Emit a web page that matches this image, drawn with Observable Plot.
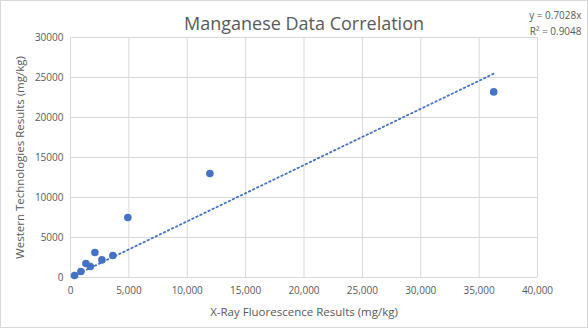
<!DOCTYPE html>
<html><head><meta charset="utf-8">
<script src="https://cdn.jsdelivr.net/npm/d3@7"></script>
<script src="https://cdn.jsdelivr.net/npm/@observablehq/plot@0.6"></script>
<style>
html,body{margin:0;padding:0;background:#fff;}
#chart{width:586px;height:326px;border:1px solid #d9d9d9;overflow:hidden;position:relative;}
svg{font-family:"Open Sans",sans-serif;}
</style></head>
<body><div id="chart"></div>
<script>
const xrf = [350, 890, 1320, 1700, 2090, 2690, 3630, 4910, 11940, 36250];
const wt  = [250, 750, 1750, 1380, 3130, 2200, 2750, 7500, 13000, 23200];
const slope = 0.7028;
const r2 = 0.9048;
const xTicks = [0,5000,10000,15000,20000,25000,30000,35000,40000];
const yTicks = [0,5000,10000,15000,20000,25000,30000];
const title = "Manganese Data Correlation";
const xLabel = "X-Ray Fluorescence Results (mg/kg)";
const yLabel = "Western Technologies Results (mg/kg)";

const pts = xrf.map((x,i)=>({x, y: wt[i]}));
const ext = d3.extent(xrf);
const trend = ext.map(x=>({x, y: slope*x}));
const grey = "#595959";
const grid = "#d9d9d9";
const blue = "#4472C4";

const chart = Plot.plot({
  width: 586, height: 326,
  marginLeft: 69, marginRight: 50, marginTop: 36, marginBottom: 50,
  style: {fontFamily: '"Open Sans", sans-serif', background: "#fff"},
  x: {domain: [0, 40000]},
  y: {domain: [0, 30000]},
  marks: [
    Plot.gridX(xTicks, {stroke: grid, strokeOpacity: 1, strokeWidth: 1}),
    Plot.gridY(yTicks, {stroke: grid, strokeOpacity: 1, strokeWidth: 1}),
    Plot.axisX(xTicks, {tickSize: 0, tickPadding: 9, fontSize: 10, fill: grey, tickFormat: d3.format(","), label: null}),
    Plot.axisY(yTicks, {tickSize: 0, tickPadding: 7, fontSize: 10, fill: grey, tickFormat: d=>String(d), label: null}),
    Plot.text([xLabel], {frameAnchor: "bottom", dy: 38, fontSize: 11.5, fill: grey, textAnchor: "middle"}),
    Plot.text([yLabel], {frameAnchor: "left", dx: -50, rotate: -90, fontSize: 11.5, fill: grey, textAnchor: "middle"}),
    Plot.line(trend, {x: "x", y: "y", stroke: blue, strokeWidth: 1.8, strokeDasharray: "1.5 3"}),
    Plot.dot(pts, {x: "x", y: "y", r: 3.8, fill: blue, stroke: "none"}),
    Plot.text([title], {frameAnchor: "top", dy: -20, fontSize: 18, fill: grey}),
    Plot.text([`y = ${slope}x`], {frameAnchor: "top-right", dx: 44, dy: -26, fontSize: 10, fill: grey, textAnchor: "end"}),
    Plot.text([`R² = ${r2}`], {frameAnchor: "top-right", dx: 44, dy: -10, fontSize: 10, fill: grey, textAnchor: "end"})
  ]
});
document.getElementById("chart").appendChild(chart);
</script></body></html>
